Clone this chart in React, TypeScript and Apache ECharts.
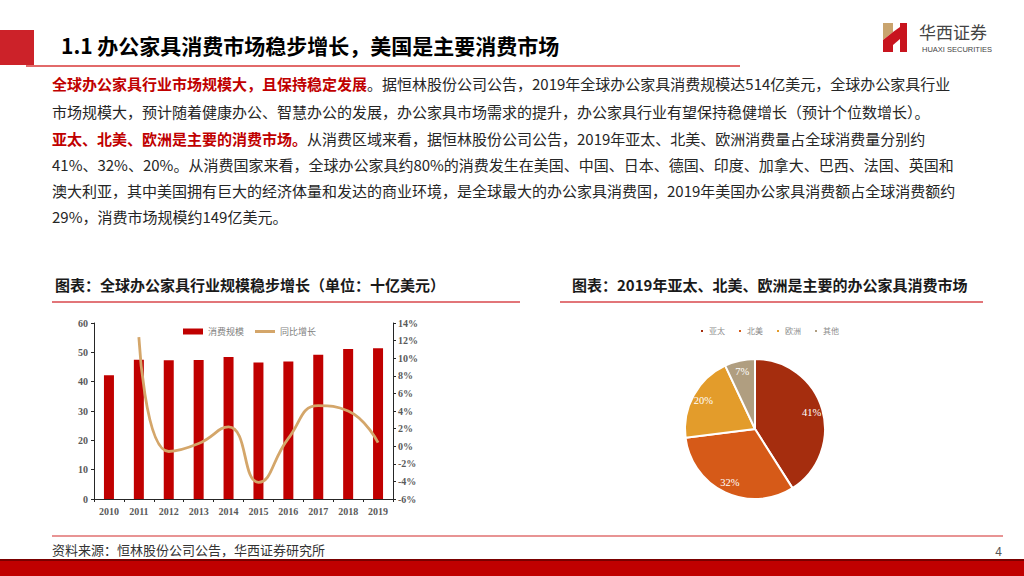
import React, { useEffect, useRef } from "react";
import * as echarts from "echarts";

const years = ["2010", "2011", "2012", "2013", "2014", "2015", "2016", "2017", "2018", "2019"];
const scaleValues = [42.2, 47.5, 47.3, 47.4, 48.4, 46.5, 46.9, 49.2, 51.1, 51.4];
const growthValues = [null, 12.4, -0.6, 0.3, 2.2, -4.1, 0.9, 4.6, 4.0, 0.4];
const pieNames = ["亚太", "北美", "欧洲", "其他"];
const pieValues = [41, 32, 20, 7];
const pieColors = ["#A52D0E", "#D65A18", "#E39C2B", "#B09E80"];

const titleText = "1.1 办公家具消费市场稳步增长，美国是主要消费市场";
const paraLines: [string, string][] = [
  ["全球办公家具行业市场规模大，且保持稳定发展", "。据恒林股份公司公告，2019年全球办公家具消费规模达514亿美元，全球办公家具行业"],
  ["", "市场规模大，预计随着健康办公、智慧办公的发展，办公家具市场需求的提升，办公家具行业有望保持稳健增长（预计个位数增长）。"],
  ["亚太、北美、欧洲是主要的消费市场。", "从消费区域来看，据恒林股份公司公告，2019年亚太、北美、欧洲消费量占全球消费量分别约"],
  ["", "41%、32%、20%。从消费国家来看，全球办公家具约80%的消费发生在美国、中国、日本、德国、印度、加拿大、巴西、法国、英国和"],
  ["", "澳大利亚，其中美国拥有巨大的经济体量和发达的商业环境，是全球最大的办公家具消费国，2019年美国办公家具消费额占全球消费额约"],
  ["", "29%，消费市场规模约149亿美元。"],
];
const lineYs = [87, 114.5, 141.5, 168, 194, 220];
const leftChartTitle = "图表：全球办公家具行业规模稳步增长（单位：十亿美元）";
const rightChartTitle = "图表：2019年亚太、北美、欧洲是主要的办公家具消费市场";
const sourceText = "资料来源：恒林股份公司公告，华西证券研究所";

const CJK = "'Noto Sans CJK SC', 'Noto Sans', sans-serif";
const SERIF = "'Liberation Serif', 'DejaVu Serif', serif";

export default function App() {
  const ref = useRef<HTMLDivElement>(null);
  useEffect(() => {
    if (!ref.current) return;
    const chart = echarts.init(ref.current, undefined, { renderer: "svg" });

    const paraGraphics = paraLines.map((pl, i) => ({
      type: "text",
      left: 52,
      top: lineYs[i] - 11,
      style: {
        text: (pl[0] ? `{r|${pl[0]}}` : "") + `{n|${pl[1]}}`,
        rich: {
          r: { fontSize: 15, fontWeight: "bold", fill: "#C00000", fontFamily: CJK },
          n: { fontSize: 15, fill: "#262626", fontFamily: CJK },
        },
      },
    }));

    const option: any = {
      animation: false,
      backgroundColor: "#ffffff",
      grid: { left: 94, right: 631, top: 323, bottom: 77, containLabel: false },
      legend: [
        {
          data: ["消费规模"],
          left: 178,
          top: 322,
          itemWidth: 20,
          itemHeight: 6,
          icon: "rect",
          textStyle: { fontSize: 9, color: "#7f7f7f", fontFamily: CJK },
        },
        {
          data: [{ name: "同比增长", icon: "rect" }],
          left: 250,
          top: 322,
          itemWidth: 20,
          itemHeight: 3,
          textStyle: { fontSize: 9, color: "#7f7f7f", fontFamily: CJK },
        },
        {
          data: pieNames,
          left: 694,
          top: 322,
          itemWidth: 4,
          itemHeight: 4,
          itemGap: 12,
          icon: "rect",
          textStyle: { fontSize: 8, color: "#8c8c8c", fontFamily: CJK },
        },
      ],
      xAxis: {
        type: "category",
        data: years,
        axisLine: { lineStyle: { color: "#262626", width: 1 } },
        axisTick: { show: true, length: 3, lineStyle: { color: "#262626" } },
        axisLabel: { fontSize: 10, fontWeight: "bold", color: "#595959", fontFamily: SERIF, margin: 7 },
      },
      yAxis: [
        {
          type: "value",
          min: 0,
          max: 60,
          interval: 10,
          splitLine: { show: false },
          axisLine: { show: true, lineStyle: { color: "#262626" } },
          axisTick: { show: true, length: 3, lineStyle: { color: "#262626" } },
          axisLabel: { fontSize: 10, fontWeight: "bold", color: "#595959", fontFamily: SERIF, margin: 6 },
        },
        {
          type: "value",
          min: -6,
          max: 14,
          interval: 2,
          splitLine: { show: false },
          axisLine: { show: true, lineStyle: { color: "#262626" } },
          axisTick: { show: true, length: 3, lineStyle: { color: "#262626" } },
          axisLabel: {
            fontSize: 10,
            fontWeight: "bold",
            color: "#595959",
            fontFamily: SERIF,
            margin: 5,
            formatter: "{value}%",
          },
        },
      ],
      series: [
        {
          name: "消费规模",
          type: "bar",
          data: scaleValues,
          barWidth: 10,
          itemStyle: { color: "#C00000" },
        },
        {
          name: "同比增长",
          type: "line",
          yAxisIndex: 1,
          data: growthValues,
          smooth: 0.5,
          showSymbol: false,
          symbol: "none",
          lineStyle: { color: "#D4A66A", width: 2.8 },
          itemStyle: { color: "#D4A66A" },
        },
        {
          name: "pie",
          type: "pie",
          center: [755, 429],
          radius: [0, 70],
          startAngle: 90,
          clockwise: true,
          label: { show: false },
          labelLine: { show: false },
          itemStyle: { borderColor: "#ffffff", borderWidth: 2 },
          data: pieNames.map((n, i) => ({ name: n, value: pieValues[i], itemStyle: { color: pieColors[i] } })),
        },
        {
          name: "pieLabels",
          type: "pie",
          center: [755, 429],
          radius: [42, 70],
          startAngle: 90,
          clockwise: true,
          silent: true,
          legendHoverLink: false,
          z: 5,
          itemStyle: { color: "rgba(0,0,0,0)", borderWidth: 0 },
          label: {
            show: true,
            position: "inside",
            formatter: "{c}%",
            color: "#ffffff",
            fontSize: 10.5,
            fontFamily: SERIF,
          },
          labelLine: { show: false },
          data: pieNames.map((n, i) => ({ name: n, value: pieValues[i] })),
        },
      ],
      graphic: [
        // title bar
        { type: "rect", shape: { x: 0, y: 30, width: 34, height: 35 }, style: { fill: "#CC2229" } },
        { type: "line", shape: { x1: 26, y1: 66, x2: 740, y2: 66 }, style: { stroke: "#E26A6A", lineWidth: 2 } },
        {
          type: "text",
          left: 61,
          top: 34,
          style: { text: titleText, fontSize: 21, fontWeight: "bold", fill: "#000000", fontFamily: CJK },
        },
        // logo
        { type: "polygon", shape: { points: [[883, 23], [893, 23], [893, 32], [883, 40]] }, style: { fill: "#C9A46E" } },
        { type: "polygon", shape: { points: [[883, 40], [893, 32], [893, 52], [883, 52]] }, style: { fill: "#C8141E" } },
        { type: "polygon", shape: { points: [[893, 32], [900, 27], [900, 39], [893, 45]] }, style: { fill: "#C8141E" } },
        { type: "rect", shape: { x: 900, y: 23, width: 7, height: 29 }, style: { fill: "#C8141E" } },
        {
          type: "text",
          left: 919,
          top: 23,
          style: { text: "华西证券", fontSize: 17, fill: "#444444", fontFamily: CJK },
        },
        {
          type: "text",
          left: 922,
          top: 45,
          style: { text: "HUAXI SECURITIES", fontSize: 7.5, fill: "#444444", fontFamily: "'Liberation Sans', sans-serif" },
        },
        ...paraGraphics,
        // chart titles
        {
          type: "text",
          left: 55,
          top: 277,
          style: { text: leftChartTitle, fontSize: 15, fontWeight: "bold", fill: "#1a1a1a", fontFamily: CJK },
        },
        { type: "line", shape: { x1: 52, y1: 302, x2: 520, y2: 302 }, style: { stroke: "#D9474D", lineWidth: 1.5 } },
        {
          type: "text",
          left: 572,
          top: 277,
          style: { text: rightChartTitle, fontSize: 15, fontWeight: "bold", fill: "#1a1a1a", fontFamily: CJK },
        },
        { type: "line", shape: { x1: 560, y1: 302, x2: 983, y2: 302 }, style: { stroke: "#D9474D", lineWidth: 1.5 } },
        // footer
        { type: "line", shape: { x1: 52, y1: 536, x2: 1003, y2: 536 }, style: { stroke: "#E07070", lineWidth: 1.5 } },
        {
          type: "text",
          left: 52,
          top: 543,
          style: { text: sourceText, fontSize: 13, fill: "#333333", fontFamily: CJK },
        },
        {
          type: "text",
          right: 22,
          top: 544,
          style: { text: "4", fontSize: 12, fill: "#555555", fontFamily: CJK },
        },
        { type: "rect", shape: { x: 0, y: 560, width: 1024, height: 16 }, style: { fill: "#C00000" } },
        { type: "rect", shape: { x: 0, y: 559, width: 1024, height: 2 }, style: { fill: "#7A0000" } },
      ],
    };
    chart.setOption(option);
    return () => chart.dispose();
  }, []);
  return (
    <div
      ref={ref}
      style={{ position: "absolute", left: 0, top: 0, width: 1024, height: 576, background: "#fff" }}
    />
  );
}
